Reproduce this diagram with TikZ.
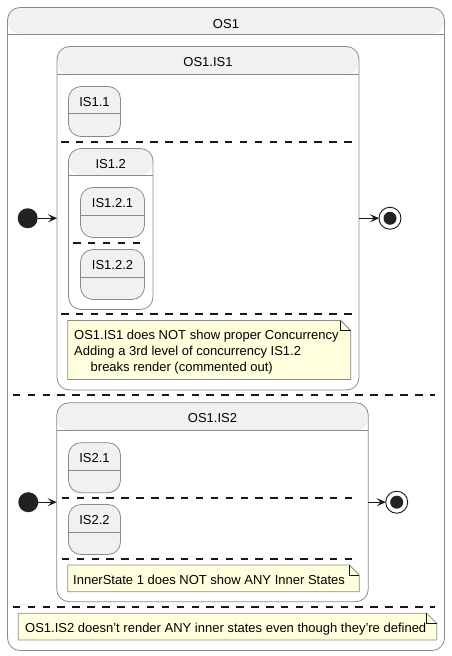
\documentclass[tikz,border=0pt]{standalone}
\usepackage{fontspec}
\setmainfont{Liberation Sans}
\usetikzlibrary{arrows.meta}
\definecolor{stfill}{HTML}{F1F1F1}
\definecolor{stline}{HTML}{181818}
\definecolor{bdline}{HTML}{8A8A8A}
\definecolor{notefill}{HTML}{FEFFDD}
\definecolor{dotfill}{HTML}{222222}
\tikzset{
  statebox/.style 2 args={draw=bdline, line width=0.8pt, rounded corners=12.5pt, fill=#2, inner sep=0pt, outer sep=0pt, anchor=north west,
    path picture={\fill[stfill] (path picture bounding box.north west) rectangle ([yshift=-#1]path picture bounding box.north east);
      \draw[bdline, line width=0.8pt] ([yshift=-#1]path picture bounding box.north west) -- ([yshift=-#1]path picture bounding box.north east);}},
  ttl/.style={anchor=base, inner sep=0pt, font=\fontsize{13}{15.6}\selectfont},
  notebox/.style={inner sep=0pt, outer sep=0pt, anchor=north west},
  notetxt/.style={inner sep=0pt, align=left, font=\fontsize{13}{15.8}\selectfont},
  sep/.style={stline, line width=1.6pt, dash pattern=on 7.5pt off 7.4pt},
  init/.style={circle, fill=dotfill, minimum size=20pt, inner sep=0pt, outer sep=0pt},
  final/.style={circle, draw=stline, line width=0.9pt, fill=white, minimum size=22pt, inner sep=0pt, outer sep=0pt,
    path picture={\fill[dotfill] (path picture bounding box.center) circle (6.5pt);}},
  arr/.style={stline, line width=1pt, -{Stealth[length=9pt, width=8pt, inset=4pt]}},
}
\newcommand\notepath[1]{%
  \draw[bdline, line width=0.8pt, fill=notefill] (#1.north west) -- ([xshift=-10pt]#1.north east) -- ([yshift=-10pt]#1.north east) -- (#1.south east) -- (#1.south west) -- cycle;
  \draw[stline, line width=0.8pt] ([xshift=-10pt]#1.north east) -- ([xshift=-10pt,yshift=-10pt]#1.north east) -- ([yshift=-10pt]#1.north east);}
\begin{document}
\begin{tikzpicture}[x=1pt, y=-1pt]
\useasboundingbox (0,0) rectangle (451,656);
% outer state
\node[statebox={26.5pt}{white}, minimum width=437pt, minimum height=643pt] (os1) at (7.5,7.5) {};
\node[ttl] (os1t) at ([yshift=-20.8pt]os1.north) {OS1};
% OS1.IS1
\node[statebox={28pt}{white}, minimum width=302pt, minimum height=343.5pt] (is1) at (57,46.5) {};
\node[ttl] (is1t) at ([yshift=-20.2pt]is1.north) {OS1.IS1};
\node[statebox={27pt}{stfill}, minimum width=52pt, minimum height=50pt] (is11) at (68.5,86.5) {};
\node[ttl] (is11t) at ([yshift=-19.8pt]is11.north) {IS1.1};
\draw[sep] (61,142) -- (353,142);
\node[statebox={26.5pt}{white}, minimum width=84.5pt, minimum height=161pt] (is12) at (68.5,148.5) {};
\node[ttl] (is12t) at ([yshift=-19.8pt]is12.north) {IS1.2};
\node[statebox={27.5pt}{stfill}, minimum width=64pt, minimum height=50pt] (is121) at (80.5,187.5) {};
\node[ttl] (is121t) at ([yshift=-19.8pt]is121.north) {IS1.2.1};
\draw[sep] (73,243) -- (147,243);
\node[statebox={27.5pt}{stfill}, minimum width=64pt, minimum height=50pt] (is122) at (80.5,249.5) {};
\node[ttl] (is122t) at ([yshift=-19.8pt]is122.north) {IS1.2.2};
\draw[sep] (61,314) -- (353,314);
\node[notebox, minimum width=283pt, minimum height=59pt] (n1) at (67.7,320.5) {};
\notepath{n1}
\node[notetxt, anchor=north west] (n1t) at (74,330) {OS1.IS1 does NOT show proper Concurrency\\Adding a 3rd level of concurrency IS1.2\\\hspace*{16.5pt}breaks render (commented out)};
% initial / final 1
\node[init] (i1) at (27.7,218.25) {};
\node[final] (f1) at (390,218.25) {};
\draw[arr] (i1) -- (is1);
\draw[arr] (is1) -- (f1);
% separator OS1
\draw[sep] (12.7,395) -- (435,395);
% OS1.IS2
\node[statebox={28pt}{white}, minimum width=311.6pt, minimum height=199pt] (is2) at (56.7,402.7) {};
\node[ttl] (is2t) at ([yshift=-20.2pt]is2.north) {OS1.IS2};
\node[statebox={28pt}{stfill}, minimum width=52pt, minimum height=50pt] (is21) at (68.5,442.7) {};
\node[ttl] (is21t) at ([yshift=-19.8pt]is21.north) {IS2.1};
\draw[sep] (61.7,498) -- (358.3,498);
\node[statebox={28pt}{stfill}, minimum width=52pt, minimum height=50pt] (is22) at (68.5,504.5) {};
\node[ttl] (is22t) at ([yshift=-19.8pt]is22.north) {IS2.2};
\draw[sep] (61.7,559) -- (358.3,559);
\node[notebox, minimum width=291.6pt, minimum height=26.7pt] (n2) at (67.7,565) {};
\notepath{n2}
\node[notetxt, anchor=base west] (n2t) at (73,584.3) {InnerState 1 does NOT show ANY Inner States};
\node[init] (i2) at (28.3,502.2) {};
\node[final] (f2) at (396.7,502.2) {};
\draw[arr] (i2) -- (is2);
\draw[arr] (is2) -- (f2);
\draw[sep] (12.7,607) -- (435,607);
\node[notebox, minimum width=418.4pt, minimum height=26.7pt] (n3) at (18.3,613.3) {};
\notepath{n3}
\node[notetxt, anchor=base west] (n3t) at (25,632) {OS1.IS2 doesn't render ANY inner states even though they're defined};
\end{tikzpicture}
\end{document}
